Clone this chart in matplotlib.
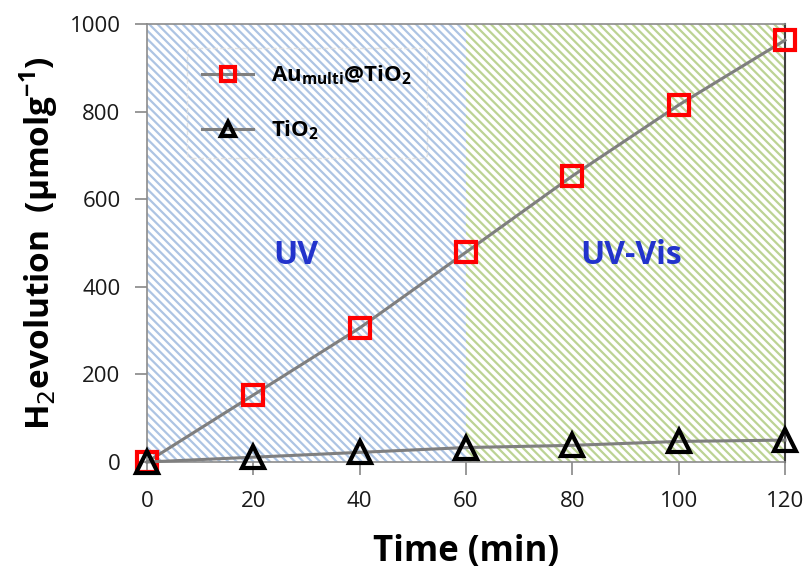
import matplotlib.pyplot as plt
from matplotlib.lines import Line2D

plt.rcParams['font.family'] = ['Open Sans', 'DejaVu Sans']
plt.rcParams['hatch.linewidth'] = 1.6

# data
time_min = [0, 20, 40, 60, 80, 100, 120]
au_multi = [0, 153, 306, 479, 653, 815, 963]
tio2 = [0, 11, 22, 33, 38, 47, 50]

uv_span = (0, 60)
uvvis_span = (60, 120)

fig = plt.figure(figsize=(8.11, 5.73), dpi=100)
ax = fig.add_axes([147 / 811, 1 - 462 / 573, (785 - 147) / 811, (462 - 24) / 573])

# hatched illumination regions
ax.axvspan(*uv_span, facecolor='white', edgecolor='#adc4e3', hatch='\\' * 4,
           linewidth=0, zorder=0)
ax.axvspan(*uvvis_span, facecolor='white', edgecolor='#bcd394', hatch='\\' * 4,
           linewidth=0, zorder=0)

ax.plot(time_min, au_multi, color='#7f7f7f', lw=2.2, marker='s', ms=15,
        mfc='none', mec='#ff0000', mew=3, zorder=3, clip_on=False)
ax.plot(time_min, tio2, color='#7f7f7f', lw=2.2, marker='^', ms=16,
        mfc='none', mec='black', mew=3, zorder=4, clip_on=False)

ax.text(28, 472, 'UV', color='#2233cc', fontsize=23, fontweight='bold',
        ha='center', va='center')
ax.text(91, 472, 'UV-Vis', color='#2233cc', fontsize=23, fontweight='bold',
        ha='center', va='center')

ax.set_xlim(0, 120)
ax.set_ylim(0, 1000)
ax.set_xticks(time_min)
ax.set_yticks(range(0, 1001, 200))
ax.tick_params(axis='both', labelsize=16, colors='#888888', labelcolor='#1a1a1a',
               length=9, width=1.2, direction='out')
ax.tick_params(axis='x', pad=12)
ax.tick_params(axis='y', pad=10)

for side in ['left', 'top', 'bottom']:
    ax.spines[side].set_color('#8c8c8c')
    ax.spines[side].set_linewidth(1.2)
ax.spines['right'].set_color('#404040')
ax.spines['right'].set_linewidth(1.5)

ax.set_xlabel('Time (min)', fontsize=25, fontweight='bold', labelpad=16)
ax.set_ylabel('H$_2$evolution  (\u03bcmolg$^{\\mathregular{-1}}$)', fontsize=24,
              fontweight='bold', labelpad=6)

handles = [
    Line2D([], [], color='#7f7f7f', lw=2.2, marker='s', ms=10, mfc='none',
           mec='#ff0000', mew=3),
    Line2D([], [], color='#7f7f7f', lw=2.2, marker='^', ms=10, mfc='none',
           mec='black', mew=3),
]
labels = ['Au$_{\\mathregular{multi}}$@TiO$_{\\mathregular{2}}$', 'TiO$_{\\mathregular{2}}$']
leg = ax.legend(handles, labels, loc='upper left', bbox_to_anchor=(0.045, 0.97),
                frameon=True, prop={'weight': 'bold', 'size': 16},
                handlelength=2.3, labelspacing=1.4, borderpad=0.7)
leg.get_frame().set_facecolor('none')
leg.get_frame().set_edgecolor('#dddddd')
leg.get_frame().set_linestyle('--')

fig.savefig('out.png', dpi=100)
